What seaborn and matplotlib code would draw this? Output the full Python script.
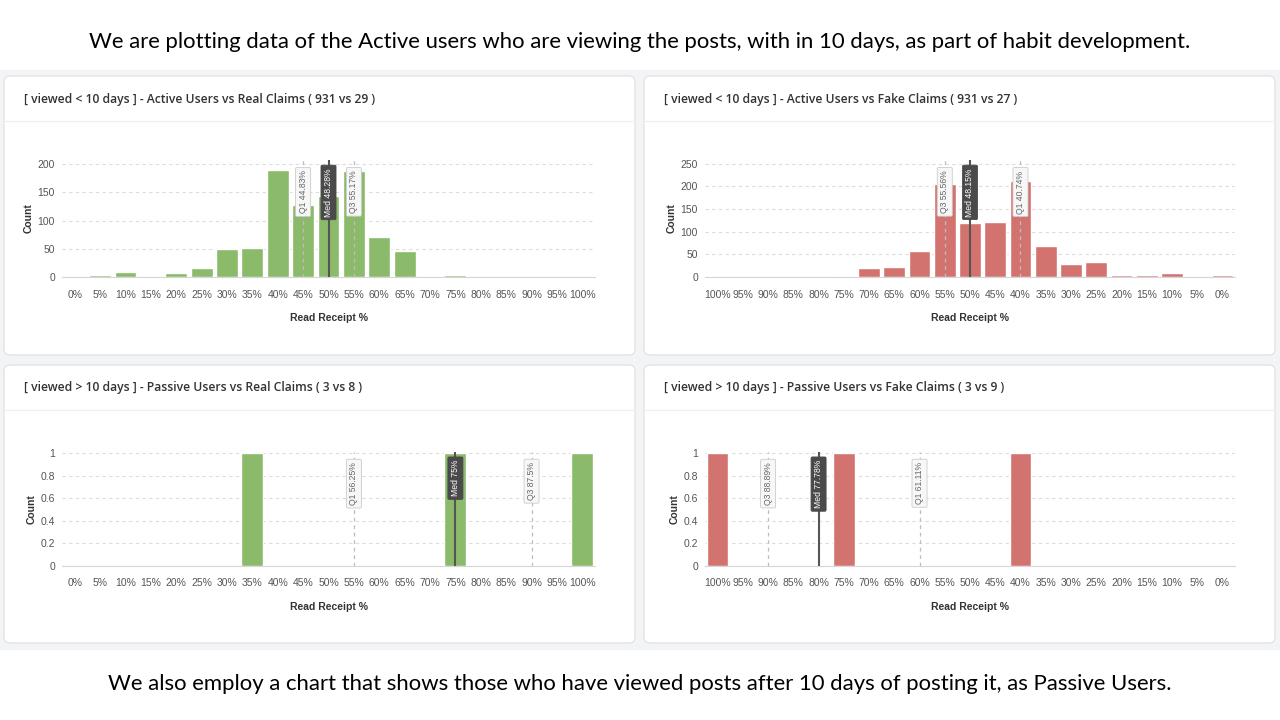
import numpy as np
import pandas as pd
import seaborn as sns
import matplotlib.pyplot as plt
import matplotlib.transforms as mtransforms
from matplotlib.patches import FancyBboxPatch, Rectangle
from matplotlib.lines import Line2D

# ---- data ----
bins = ["0%", "5%", "10%", "15%", "20%", "25%", "30%", "35%", "40%", "45%", "50%",
        "55%", "60%", "65%", "70%", "75%", "80%", "85%", "90%", "95%", "100%"]

active_real = [1, 3, 9, 2, 7, 16, 50, 52, 190, 127, 143, 188, 71, 46, 2, 4, 0, 0, 0, 0, 0]
active_fake = [4, 3, 9, 4, 5, 32, 28, 68, 211, 122, 119, 206, 57, 23, 19, 2, 1, 1, 0, 0, 0]
passive_real = [0, 0, 0, 0, 0, 0, 0, 1, 0, 0, 0, 0, 0, 0, 0, 1, 0, 0, 0, 0, 1]
passive_fake = [0, 0, 0, 0, 0, 0, 0, 0, 1, 0, 0, 0, 0, 0, 0, 1, 0, 0, 0, 0, 1]

# quartiles: (Q1, median, Q3)
q_active_real = (44.83, 48.28, 55.17)
q_active_fake = (40.74, 48.15, 55.56)
q_passive_real = (56.25, 75, 87.5)
q_passive_fake = (61.11, 77.78, 88.89)

titles = [
    "[ viewed < 10 days ] - Active Users vs Real Claims ( 931 vs 29 )",
    "[ viewed < 10 days ] - Active Users vs Fake Claims ( 931 vs 27 )",
    "[ viewed > 10 days ] - Passive Users vs Real Claims ( 3 vs 8 )",
    "[ viewed > 10 days ] - Passive Users vs Fake Claims ( 3 vs 9 )",
]
yticks_big = [0, 50, 100, 150, 200]
yticks_fake = [0, 50, 100, 150, 200, 250]
yticks_small = [0, 0.2, 0.4, 0.6, 0.8, 1]
ylabels_small = ["0", "0.2", "0.4", "0.6", "0.8", "1"]

top_text = ("We are plotting data of the Active users who are viewing the posts, "
            "with in 10 days, as part of habit development.")
bottom_text = ("We also employ a chart that shows those who have viewed posts after "
               "10 days of posting it, as Passive Users.")

GREEN = "#8bba6b"
RED = "#d3736f"

sns.set_style("white")
plt.rcParams['font.family'] = ['Liberation Sans', 'DejaVu Sans']

W, H = 1280, 720
fig = plt.figure(figsize=(12.8, 7.2), dpi=100)
fig.patch.set_facecolor("white")


def fx(x):
    return x / W


def fy(y):
    return 1 - y / H


# grey dashboard background and cards
fig.add_artist(Rectangle((0, fy(650)), 1, (650 - 70) / H, transform=fig.transFigure,
                         facecolor="#f3f4f6", edgecolor="none", zorder=0))
cards = [(4, 76, 635, 355), (644, 76, 1275, 355), (4, 365, 635, 643), (644, 365, 1275, 643)]
for (x0, y0, x1, y1), t in zip(cards, titles):
    fig.add_artist(FancyBboxPatch((x0, H - y1), x1 - x0, y1 - y0,
                                  boxstyle="round,pad=0,rounding_size=6",
                                  transform=mtransforms.IdentityTransform(),
                                  facecolor="white", edgecolor="#e1e4e8", lw=1, zorder=1))
    fig.add_artist(Line2D([fx(x0 + 1), fx(x1 - 1)], [fy(y0 + 45), fy(y0 + 45)],
                          transform=fig.transFigure, color="#eef0f2", lw=1, zorder=2))
    fig.text(fx(x0 + 20), fy(y0 + 23), t, fontsize=8.7, family=['Open Sans', 'DejaVu Sans'],
             weight='semibold', color="#333333", va="center", ha="left", zorder=3)

fig.text(0.5, fy(42), top_text, fontsize=15.9, family=['Lato', 'DejaVu Sans'],
         ha="center", va="center", color="black")
fig.text(0.5, fy(684), bottom_text, fontsize=15.9, family=['Lato', 'DejaVu Sans'],
         ha="center", va="center", color="black")

panels = [
    dict(vals=active_real, rev=False, color=GREEN, q=q_active_real, yt=yticks_big,
         yl=[str(v) for v in yticks_big], top=205, box=(62, 595, 160, 277)),
    dict(vals=active_fake, rev=True, color=RED, q=q_active_fake, yt=yticks_fake,
         yl=[str(v) for v in yticks_fake], top=255, box=(705, 1235, 160, 277)),
    dict(vals=passive_real, rev=False, color=GREEN, q=q_passive_real, yt=yticks_small,
         yl=ylabels_small, top=1.0, box=(62, 595, 452, 566)),
    dict(vals=passive_fake, rev=True, color=RED, q=q_passive_fake, yt=yticks_small,
         yl=ylabels_small, top=1.0, box=(705, 1235, 452, 566)),
]

for p in panels:
    l, r, t, b = p["box"]
    ax = fig.add_axes([fx(l), fy(b), (r - l) / W, (b - t) / H])
    ax.set_zorder(5)
    ax.patch.set_alpha(0)
    order = bins[::-1] if p["rev"] else bins
    df = pd.DataFrame({"bin": bins, "count": p["vals"]})
    sns.barplot(data=df, x="bin", y="count", order=order, color=p["color"],
                saturation=1, width=0.86, ax=ax, zorder=2)
    ax.set_xlim(-0.5, len(bins) - 0.5)
    ax.set_ylim(0, p["top"] * 1.012)
    ax.set_yticks(p["yt"])
    ax.set_yticklabels(p["yl"])
    ax.yaxis.grid(True, color="#dcdcdc", ls=(0, (3, 3)), lw=0.8)
    ax.set_axisbelow(True)
    for s in ["top", "right", "left"]:
        ax.spines[s].set_visible(False)
    ax.spines["bottom"].set_color("#d6d6d6")
    ax.set_xticks(np.arange(-0.5, len(bins), 1), minor=True)
    ax.tick_params(axis="x", which="major", length=0, pad=9, labelsize=7.5, labelcolor="#555555")
    ax.tick_params(axis="x", which="minor", length=6, color="#d6d6d6")
    ax.tick_params(axis="y", length=0, pad=5, labelsize=7.5, labelcolor="#555555")
    ax.set_xlabel("Read Receipt %", fontsize=7.5, weight="bold", color="#333333", labelpad=10)
    ax.set_ylabel("Count", fontsize=7.5, weight="bold", color="#333333", labelpad=3)

    trans = mtransforms.blended_transform_factory(ax.transData, ax.transAxes)
    names = ["Q1", "Med", "Q3"]
    for name, v in zip(names, p["q"]):
        idx = order.index(f"{int(round(v / 5) * 5)}%")
        txt = f"{name} {v:g}%"
        if name == "Med":
            ax.axvline(idx, color="#555555", lw=1.5, zorder=4)
            ax.text(idx, 0.93, txt, transform=trans, rotation=90, ha="center", va="top",
                    fontsize=6.2, color="white", zorder=6,
                    bbox=dict(boxstyle="round,pad=0.35,rounding_size=0.15",
                              fc="#4a4a4a", ec="#4a4a4a", lw=0.6))
        else:
            ax.axvline(idx, color="#bdbdbd", lw=0.9, ls=(0, (3, 3)), zorder=3)
            ax.text(idx, 0.91, txt, transform=trans, rotation=90, ha="center", va="top",
                    fontsize=6.2, color="#666666", zorder=6,
                    bbox=dict(boxstyle="round,pad=0.35,rounding_size=0.15",
                              fc="#f7f7f7", ec="#cccccc", lw=0.6))

fig.savefig("out.png", dpi=100)
